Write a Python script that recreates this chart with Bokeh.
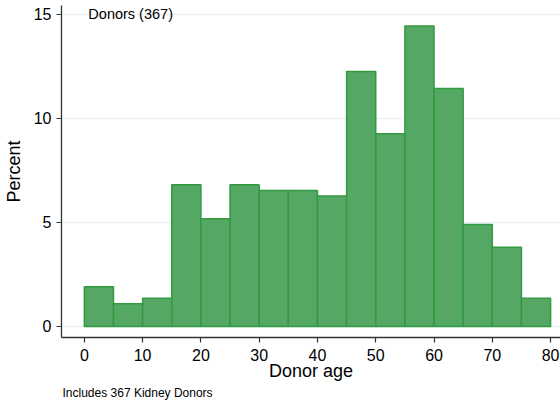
from bokeh.plotting import figure
from bokeh.models import Range1d, FixedTicker, Label, Title
from bokeh.embed import file_html
from bokeh.resources import INLINE

bin_left = [0, 5, 10, 15, 20, 25, 30, 35, 40, 45, 50, 55, 60, 65, 70, 75]
bin_right = [5, 10, 15, 20, 25, 30, 35, 40, 45, 50, 55, 60, 65, 70, 75, 80]
percent = [1.91, 1.09, 1.36, 6.81, 5.18, 6.81, 6.54, 6.54, 6.27, 12.26,
           9.26, 14.44, 11.44, 4.90, 3.81, 1.36]
x_ticks = [0, 10, 20, 30, 40, 50, 60, 70, 80]
y_ticks = [0, 5, 10, 15]

FONT = "Liberation Sans"

p = figure(width=560, height=400, output_backend="svg", toolbar_location=None,
           x_range=Range1d(-3.92, 81.7), y_range=Range1d(-0.53, 15.43),
           min_border_left=58, min_border_right=0, min_border_top=5,
           min_border_bottom=63)
p.outline_line_color = None
p.background_fill_color = "white"
p.border_fill_color = "white"

p.quad(left=bin_left, right=bin_right, top=percent, bottom=0,
       fill_color="#55a764", line_color="#339a40", line_width=1.5)

p.xgrid.grid_line_color = None
p.ygrid.grid_line_color = "#eaf2f3"
p.ygrid.grid_line_width = 1.5
p.ygrid.ticker = FixedTicker(ticks=y_ticks)

p.xaxis.ticker = FixedTicker(ticks=x_ticks)
p.yaxis.ticker = FixedTicker(ticks=y_ticks)
for ax in (p.xaxis, p.yaxis):
    ax.axis_line_color = "#333333"
    ax.axis_line_width = 1.3
    ax.major_tick_line_color = "#333333"
    ax.major_tick_line_width = 1.2
    ax.major_tick_in = 0
    ax.major_tick_out = 5
    ax.minor_tick_line_color = None
    ax.major_label_text_font = FONT
    ax.major_label_text_font_size = "16px"
    ax.major_label_text_color = "black"
    ax.axis_label_text_font = FONT
    ax.axis_label_text_font_size = "18px"
    ax.axis_label_text_font_style = "normal"
    ax.axis_label_text_color = "black"

p.xaxis.axis_label = "Donor age"
p.xaxis.major_label_standoff = 6
p.xaxis.axis_label_standoff = -3
p.yaxis.axis_label = "Percent"
p.yaxis.major_label_standoff = 5
p.yaxis.axis_label_standoff = 7
p.yaxis.major_label_orientation = "horizontal"

p.add_layout(Label(x=0, y=15, text="Donors (367)", text_font=FONT,
                   text_font_size="14.5px", text_baseline="middle",
                   x_offset=4, text_color="black"))

note = Title(text="Includes 367 Kidney Donors", align="left", text_font=FONT,
             text_font_size="12px", text_font_style="normal", text_color="black",
             offset=1, standoff=0)
p.add_layout(note, "below")

open("out.html", "w").write(file_html(p, INLINE))
